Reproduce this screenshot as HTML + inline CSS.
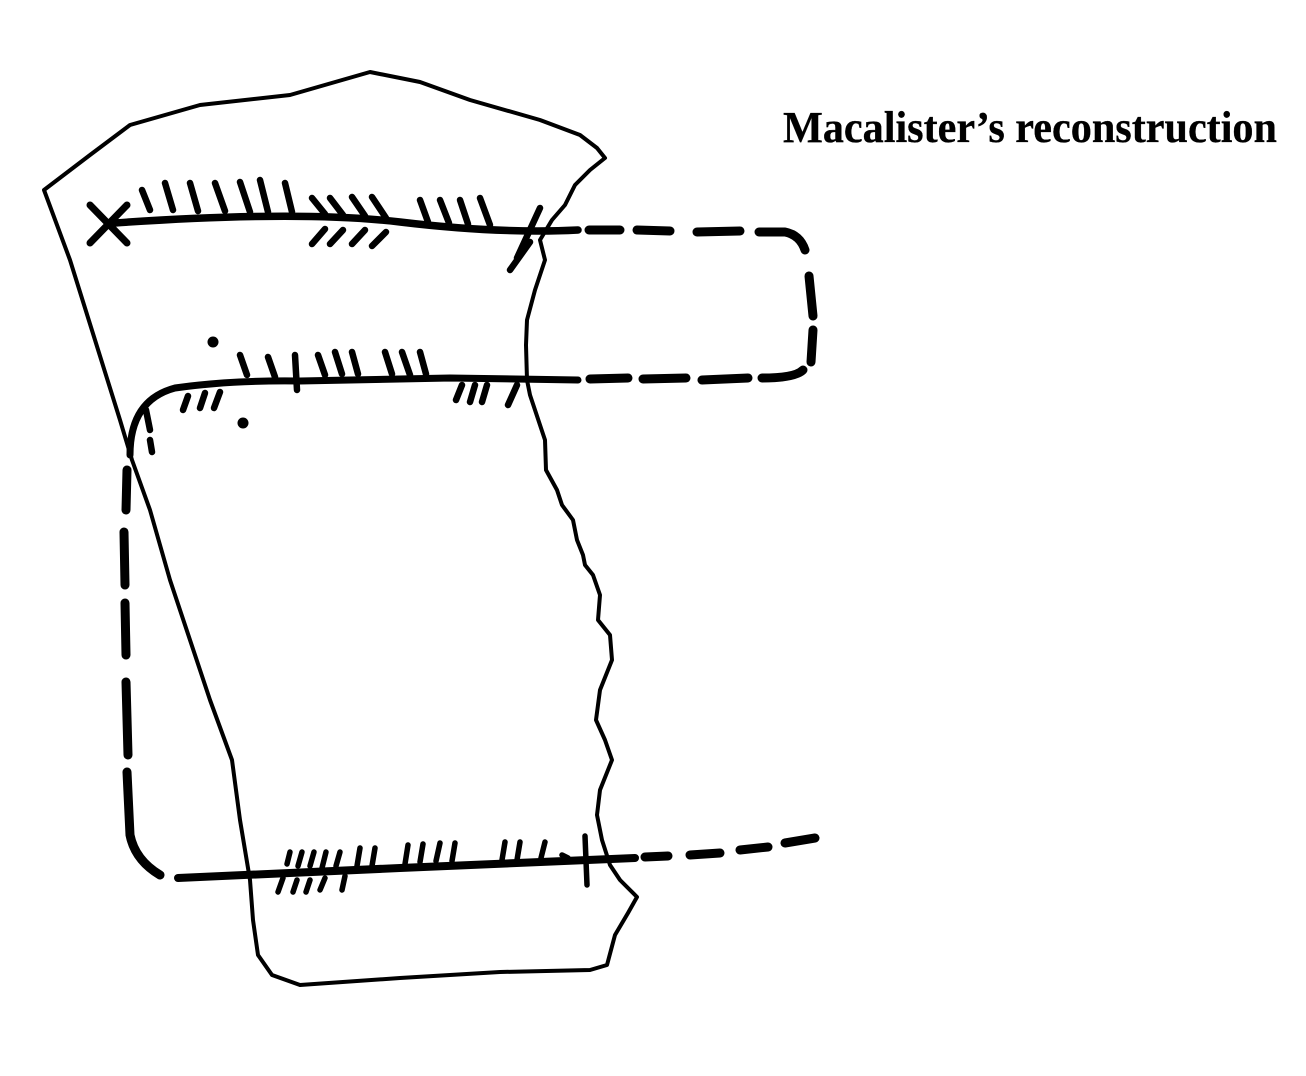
<!DOCTYPE html>
<html><head><meta charset="utf-8"><style>
html,body{margin:0;padding:0;background:#fff;}
svg{display:block;}
</style></head><body>
<svg width="1306" height="1076" viewBox="0 0 1306 1076" xmlns="http://www.w3.org/2000/svg">
<rect width="1306" height="1076" fill="#fff"/>
<text x="783" y="142" font-family="Liberation Serif, serif" font-size="44" textLength="494" lengthAdjust="spacingAndGlyphs" fill="#000" font-weight="bold" stroke="#000" stroke-width="0.3">Macalister’s reconstruction</text>
<g fill="none" stroke="#000" stroke-linecap="round" stroke-linejoin="round">
<path stroke-width="4" d="M44,190 L90,155 L130,125 L200,105 L290,95 L370,72 L420,82 L470,100 L540,120 L580,135 L597,148 L605,158 L590,170 L575,185 L565,205 L552,220 L540,240 L545,260 L535,290 L527,320 L526,345 L527,380 L530,395 L535,410 L545,440 L546,470 L557,490 L562,505 L573,520 L577,540 L583,555 L585,565 L593,575 L600,595 L598,620 L610,635 L612,660 L600,690 L596,720 L605,740 L612,760 L600,790 L597,815 L602,840 L610,865 L620,880 L637,897 L628,913 L615,935 L607,965 L590,970 L500,972 L400,978 L300,985 L272,975 L258,955 L253,920 L250,880 L240,820 L232,760 L210,700 L190,640 L170,580 L150,510 L132,460 L120,420 L95,340 L70,260 Z"/>
<path stroke-width="7.5" d="M115,223 Q300,210 400,222 T578,230"/>
<path stroke-width="7" d="M90,205 L127,243 M127,205 L90,243"/>
<g stroke-width="6.5">
<path d="M142,190 L150,210 M165,183 L173,210 M190,183 L198,211 M215,183 L225,211 M240,182 L250,212 M260,180 L268,212 M285,183 L292,212"/>
<path d="M312,198 L325,214 M330,198 L343,215 M352,197 L365,216 M372,197 L386,218"/>
<path d="M312,244 L325,229 M330,244 L343,230 M352,244 L365,230 M372,246 L386,232"/>
<path d="M420,200 L428,222 M440,200 L449,223 M460,200 L468,224 M480,198 L490,225"/>
<path d="M540,208 L517,258 M530,242 L510,270"/>
</g>
<g stroke-width="9">
<path d="M589,230 L620,230 M637,230 L670,231 M697,232 L740,231 M759,232 L785,232 Q800,235 805,250"/>
<path d="M809,276 L813,316 M813,330 L811,362"/>
<path d="M803,370 Q795,378 762,378 M748,378 L702,380 M686,378 L643,379 M628,378 L590,379"/>
</g>
<path stroke-width="7" d="M130,455 Q130,400 175,388 Q230,380 300,381 L450,378 L578,380"/>
<g stroke-width="6.5">
<path d="M240,355 L247,375 M268,357 L275,377 M295,355 L297,390 M318,355 L325,375 M335,352 L342,374 M352,352 L358,374 M385,352 L392,374 M402,352 L410,375 M420,352 L426,374"/>
<path d="M188,396 L183,410 M205,393 L200,408 M220,392 L214,408"/>
<path d="M462,385 L456,400 M475,385 L470,402 M487,385 L482,402 M517,385 L508,405"/>
<path d="M146,410 L150,430 M150,440 L152,452"/>
</g>
<circle cx="213" cy="342" r="5.5" fill="#000" stroke="none"/>
<circle cx="243" cy="423" r="5.5" fill="#000" stroke="none"/>
<g stroke-width="9">
<path d="M127,470 L126,510 M124,532 L125,585 M125,603 L126,655 M126,682 L128,755 M127,772 L130,835 Q135,860 160,875"/>
</g>
<path stroke-width="8" d="M178,878 L400,868 L635,858"/>
<g stroke-width="5.5">
<path d="M290,852 L287,864 M302,852 L298,866 M314,852 L310,866 M326,852 L322,868 M340,852 L336,866"/>
<path d="M283,878 L278,892 M297,880 L293,892 M310,880 L306,892 M325,878 L320,890 M345,876 L342,890"/>
<path d="M360,848 L357,866 M375,848 L372,866 M408,845 L405,864 M423,844 L420,862 M440,843 L436,861 M455,843 L452,861 M505,842 L502,860 M520,842 L517,860 M545,842 L541,858 M585,836 L587,885 M562,855 L568,858"/>
</g>
<g stroke-width="9">
<path d="M645,857 L668,856 M690,855 L720,853 M740,850 L768,847 M785,843 L815,838"/>
</g>
</g>
</svg>
</body></html>
